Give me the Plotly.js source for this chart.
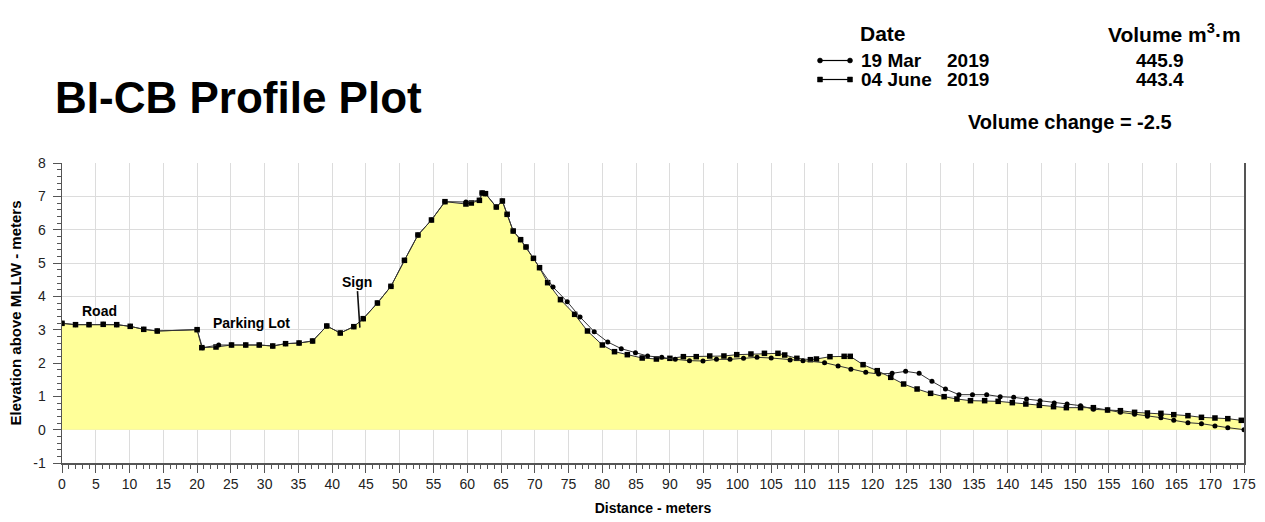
<!DOCTYPE html>
<html>
<head>
<meta charset="utf-8">
<script src="https://cdn.plot.ly/plotly-3.0.1.min.js"></script>
<style>html,body{margin:0;padding:0;background:#fff;}#chart{width:1265px;height:522px;}</style>
</head>
<body>
<div id="chart"></div>
<script>
// ---- data ----
const surveyDates = ["19 Mar", "04 June"];
const surveyYears = ["2019", "2019"];
const surveyVolumes = [445.9, 443.4];
const volumeChange = -2.5;

const distMar = [0, 2.0, 4.0, 6.1, 8.1, 10.1, 12.1, 14.1, 20.0, 20.8, 23.2, 25.1, 27.2, 29.2, 31.2, 33.1, 35.1, 37.1,
  39.2, 41.2, 43.2, 44.6, 46.7, 48.7, 50.7, 52.7, 54.7, 56.7, 59.8, 61.8, 62.2, 62.7, 64.3, 65.2, 65.9, 66.8, 67.9, 68.7,
  69.8, 70.7, 72.7, 74.8, 76.7, 78.8, 80.8, 82.8, 84.9, 86.7, 88.8, 90.8, 92.9, 94.9, 96.9, 98.9, 100.9, 102.9, 105.0,
  107.8, 109.7, 112.9, 114.9, 116.8, 119.0, 120.9, 122.9, 124.9, 126.9, 128.8, 130.8, 132.8, 134.8, 136.9, 138.9, 140.9,
  142.8, 144.8, 146.9, 148.8, 150.8, 152.7, 154.8, 156.7, 158.8, 160.7, 162.7, 164.6, 166.7, 168.7, 170.7, 172.6, 175.0];
const elevMar = [3.19, 3.15, 3.15, 3.16, 3.15, 3.10, 3.01, 2.96, 3.00, 2.46, 2.54, 2.54, 2.54, 2.54, 2.51, 2.58, 2.60, 2.66,
  3.11, 2.90, 3.09, 3.33, 3.80, 4.30, 5.08, 5.84, 6.29, 6.84, 6.83, 6.88, 7.10, 7.08, 6.68, 6.86, 6.46, 5.96, 5.70, 5.48,
  5.14, 4.86, 4.28, 3.84, 3.38, 2.94, 2.63, 2.43, 2.31, 2.21, 2.17, 2.11, 2.07, 2.06, 2.11, 2.11, 2.14, 2.17, 2.15,
  2.09, 2.07, 2.01, 1.91, 1.81, 1.72, 1.67, 1.69, 1.75, 1.69, 1.45, 1.22, 1.05, 1.05, 1.05, 0.99, 0.97,
  0.92, 0.87, 0.80, 0.77, 0.72, 0.61, 0.59, 0.52, 0.46, 0.40, 0.36, 0.28, 0.21, 0.18, 0.11, 0.06, 0.00];

const distJun = [0, 2.0, 4.0, 6.1, 8.1, 10.1, 12.1, 14.1, 20.0, 20.7, 22.8, 25.1, 27.2, 29.2, 31.2, 33.1, 35.1, 37.1,
  39.2, 41.2, 43.2, 44.6, 46.7, 48.7, 50.7, 52.7, 54.7, 56.7, 59.8, 60.6, 61.8, 62.2, 62.7, 64.3, 65.2, 65.9, 66.8, 67.9,
  68.7, 69.8, 70.7, 71.9, 73.8, 75.9, 77.8, 80.0, 81.8, 83.7, 85.9, 88.0, 90.0, 92.0, 93.9, 95.9, 98.0, 99.9, 102.0,
  104.0, 106.0, 107.0, 108.8, 110.8, 111.7, 113.7, 115.8, 116.7, 118.6, 120.7, 122.7, 124.6, 126.6, 128.6, 130.6, 132.5,
  134.5, 136.6, 138.6, 140.7, 142.7, 144.7, 146.8, 148.7, 150.8, 152.7, 154.8, 156.7, 158.8, 160.7, 162.7, 164.6, 166.7,
  168.7, 170.7, 172.6, 174.6];
const elevJun = [3.19, 3.15, 3.15, 3.16, 3.15, 3.10, 3.01, 2.96, 3.00, 2.46, 2.48, 2.54, 2.54, 2.54, 2.51, 2.58, 2.60, 2.66,
  3.11, 2.90, 3.09, 3.33, 3.80, 4.30, 5.08, 5.84, 6.29, 6.84, 6.77, 6.80, 6.88, 7.10, 7.08, 6.68, 6.86, 6.46, 5.96, 5.70,
  5.48, 5.14, 4.86, 4.41, 3.90, 3.46, 2.96, 2.54, 2.34, 2.25, 2.15, 2.12, 2.14, 2.19, 2.19, 2.21, 2.21, 2.25, 2.27,
  2.29, 2.29, 2.24, 2.14, 2.10, 2.12, 2.19, 2.20, 2.20, 1.95, 1.77, 1.57, 1.37, 1.22, 1.09, 0.99, 0.92,
  0.87, 0.87, 0.85, 0.81, 0.77, 0.73, 0.69, 0.66, 0.66, 0.66, 0.59, 0.57, 0.52, 0.50, 0.49, 0.45, 0.42,
  0.37, 0.35, 0.33, 0.28];

const xTickVals = [0, 5, 10, 15, 20, 25, 30, 35, 40, 45, 50, 55, 60, 65, 70, 75, 80, 85, 90, 95, 100, 105, 110, 115,
  120, 125, 130, 135, 140, 145, 150, 155, 160, 165, 170, 175];
const yTickVals = [-1, 0, 1, 2, 3, 4, 5, 6, 7, 8];
const yTickText = ["-1", "0", "1", "2", "3", "4", "5", "6", "7", "8"];

const siteLabels = ["Road", "Parking Lot"];
const siteLabelX = [5.5, 28.1];
const siteLabelY = [3.56, 3.2];
const signLabel = "Sign";
const signX = 44.1, signY = 3.06;

// ---- layout helpers ----
const W = 1265, H = 522;
const M = {l: 62, r: 21, t: 163, b: 59};
const pw = W - M.l - M.r, ph = H - M.t - M.b;
const px = x => (x - M.l) / pw;          // page px -> paper x
const py = y => (H - M.b - y) / ph;       // page px -> paper y
const FONT = "Liberation Sans, Arial, sans-serif";
const LINE = "#333333";

const traces = [
  {
    x: distJun, y: elevJun, type: "scatter", mode: "lines+markers", name: surveyDates[1],
    fill: "tozeroy", fillcolor: "#ffff99",
    line: {color: LINE, width: 1},
    marker: {symbol: "square", size: 5.5, color: "#000"}
  },
  {
    x: distMar, y: elevMar, type: "scatter", mode: "lines+markers", name: surveyDates[0],
    line: {color: LINE, width: 1},
    marker: {symbol: "circle", size: 5, color: "#000"}
  }
];

function txt(text, x, y, size, anchor) {
  return {text: "<b>" + text + "</b>", xref: "paper", yref: "paper", x: px(x), y: py(y),
    xanchor: anchor || "left", yanchor: "middle", showarrow: false,
    font: {family: FONT, size: size, color: "#000"}};
}

const rowY = [60.5, 79.5];
const annotations = [
  txt("Date", 858, 33, 21),
  txt("Volume m<sup>3</sup>·m", 1243, 33, 21, "right"),
  txt(surveyDates[0], 859, rowY[0], 19),
  txt(surveyYears[0], 945, rowY[0], 19),
  txt(surveyDates[1], 859, rowY[1], 19),
  txt(surveyYears[1], 945, rowY[1], 19),
  txt(surveyVolumes[0].toFixed(1), 1160, rowY[0], 19, "center"),
  txt(surveyVolumes[1].toFixed(1), 1160, rowY[1], 19, "center"),
  txt("Volume change = " + volumeChange.toFixed(1), 966, 122, 20),
  {text: "<b>" + siteLabels[0] + "</b>", x: siteLabelX[0], y: siteLabelY[0], xref: "x", yref: "y",
    showarrow: false, font: {family: FONT, size: 14, color: "#000"}},
  {text: "<b>" + siteLabels[1] + "</b>", x: siteLabelX[1], y: siteLabelY[1], xref: "x", yref: "y",
    showarrow: false, font: {family: FONT, size: 14, color: "#000"}},
  {text: "<b>" + signLabel + "</b>", x: signX, y: signY, xref: "x", yref: "y",
    showarrow: true, arrowhead: 0, arrowwidth: 1.6, arrowcolor: "#111", ax: -3, ay: -46,
    font: {family: FONT, size: 14, color: "#000"}}
];

// legend symbols (decoration)
const shapes = [];
function legendSym(y, kind) {
  shapes.push({type: "line", xref: "paper", yref: "paper", x0: px(820), x1: px(850), y0: py(y), y1: py(y),
    line: {color: "#000", width: 1.2}});
  [820, 850].forEach(cx => {
    shapes.push({type: kind === "circle" ? "circle" : "rect", xref: "paper", yref: "paper",
      xsizemode: "pixel", ysizemode: "pixel", xanchor: px(cx), yanchor: py(y),
      x0: -2.5, x1: 2.5, y0: -2.5, y1: 2.5, fillcolor: "#000", line: {color: "#000", width: 0.5}});
  });
}
legendSym(rowY[0], "circle");
legendSym(rowY[1], "square");

const layout = {
  width: W, height: H,
  margin: M,
  paper_bgcolor: "#fff", plot_bgcolor: "#fff",
  showlegend: false,
  font: {family: FONT, color: "#222"},
  title: {text: "<b>BI-CB Profile Plot</b>", x: 55 / W, xanchor: "left", xref: "container",
    y: 1 - 98 / H, yanchor: "middle", yref: "container",
    font: {family: FONT, size: 44, color: "#000"}},
  xaxis: {
    range: [0, 175], tickmode: "array", tickvals: xTickVals,
    ticks: "outside", ticklen: 8, tickcolor: "#555", tickwidth: 1,
    showline: true, linecolor: "#555", linewidth: 1.5, mirror: false,
    showgrid: true, gridcolor: "#dcdcdc", gridwidth: 1, zeroline: false,
    tickfont: {family: FONT, size: 14, color: "#222"},
    minor: {dtick: 1, tick0: 0, ticks: "outside", ticklen: 4, tickcolor: "#555", showgrid: false},
    title: {text: "<b>Distance - meters</b>", font: {family: FONT, size: 14, color: "#000"}, standoff: 12},
    fixedrange: true
  },
  yaxis: {
    range: [-1, 8], tickmode: "array", tickvals: yTickVals, ticktext: yTickText,
    ticks: "outside", ticklen: 8, tickcolor: "#555", tickwidth: 1,
    showline: true, linecolor: "#555", linewidth: 1.5, mirror: true,
    showgrid: true, gridcolor: "#dcdcdc", gridwidth: 1, zeroline: false,
    ticklabelstandoff: 4,
    tickfont: {family: FONT, size: 14, color: "#222"},
    minor: {dtick: 0.2, tick0: 0, ticks: "outside", ticklen: 4, tickcolor: "#555", showgrid: false},
    title: {text: "<b>Elevation above MLLW - meters</b>", font: {family: FONT, size: 15, color: "#000"}, standoff: 8},
    fixedrange: true
  },
  annotations: annotations,
  shapes: shapes
};

Plotly.newPlot("chart", traces, layout, {staticPlot: true, displayModeBar: false});
</script>
</body>
</html>
